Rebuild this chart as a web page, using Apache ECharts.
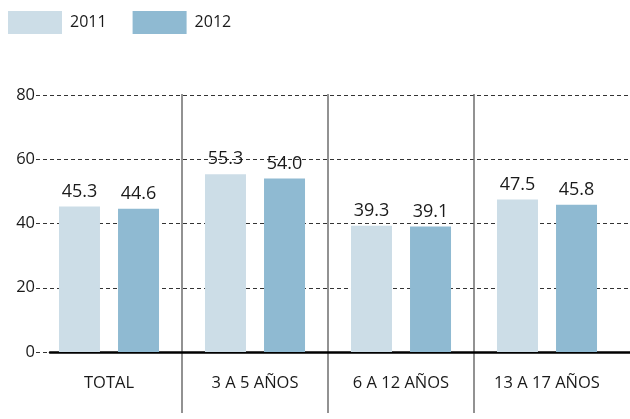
<!DOCTYPE html>
<html><head><meta charset="utf-8">
<script src="https://cdn.jsdelivr.net/npm/echarts@6/dist/echarts.min.js"></script>
<style>html,body{margin:0;padding:0;background:#fff}#c{width:630px;height:419px}</style>
</head><body><div id="c"></div>
<script>
const categories = ['TOTAL', '3 A 5 AÑOS', '6 A 12 AÑOS', '13 A 17 AÑOS'];
const seriesNames = ['2011', '2012'];
const values2011 = [45.3, 55.3, 39.3, 47.5];
const values2012 = [44.6, 54.0, 39.1, 45.8];
const yTicks = [0, 20, 40, 60, 80];

const FONT = '"Open Sans", sans-serif';
const yMin = yTicks[0], yMax = yTicks[yTicks.length - 1], yStep = yTicks[1] - yTicks[0];
const TOP = 95, BOTTOM = 67;

const chart = echarts.init(document.getElementById('c'));
const lbl = {show: true, position: 'top', distance: 6, color: '#1a1a1a', fontSize: 18, fontFamily: FONT,
  formatter: p => p.value.toFixed(1)};
chart.setOption({
  animation: false,
  legend: {
    left: 3, top: 6, itemWidth: 54, itemHeight: 23, itemGap: 26,
    icon: 'rect', data: seriesNames,
    textStyle: {fontSize: 16, fontFamily: FONT, color: '#1a1a1a', padding: [0, 0, 0, 3]}
  },
  grid: [
    {left: 36, right: 0, top: TOP, bottom: BOTTOM},   // gridlines + y labels
    {left: 36, right: 10, top: TOP, bottom: BOTTOM},  // bars
    {left: 36, right: 10, top: 94, bottom: 6},        // separators
    {left: 50, right: 0, top: TOP, bottom: BOTTOM}    // zero axis line
  ],
  xAxis: [
    {gridIndex: 0, type: 'value', show: false},
    {gridIndex: 1, type: 'category', data: categories,
      axisLine: {show: false}, axisTick: {show: false},
      axisLabel: {color: '#1a1a1a', fontSize: 16.5, fontFamily: FONT, margin: 23}},
    {gridIndex: 2, type: 'value', min: 0, max: categories.length, interval: 1,
      axisLine: {show: false}, axisTick: {show: false}, axisLabel: {show: false},
      splitLine: {show: true, showMinLine: false, showMaxLine: false, lineStyle: {color: '#6e6e6e', width: 1.5}}},
    {gridIndex: 3, type: 'value', min: 0, max: 1,
      axisLine: {show: true, lineStyle: {color: '#000', width: 2.5}},
      axisTick: {show: false}, axisLabel: {show: false}, splitLine: {show: false}}
  ],
  yAxis: [
    {gridIndex: 0, type: 'value', min: yMin, max: yMax, interval: yStep,
      axisLine: {show: false}, axisTick: {show: false},
      axisLabel: {color: '#1a1a1a', fontSize: 16.5, fontFamily: FONT, margin: 1},
      splitLine: {show: true, lineStyle: {color: '#333', type: [4, 3], width: 1}}},
    {gridIndex: 1, type: 'value', min: yMin, max: yMax, interval: yStep, show: false, splitLine: {show: false}},
    {gridIndex: 2, type: 'value', show: false, splitLine: {show: false}},
    {gridIndex: 3, type: 'value', min: yMin, max: yMax, show: false, splitLine: {show: false}}
  ],
  series: [
    {name: seriesNames[0], type: 'bar', xAxisIndex: 1, yAxisIndex: 1, data: values2011,
      barWidth: 41, barGap: '44%', itemStyle: {color: '#ccdde7'}, label: lbl},
    {name: seriesNames[1], type: 'bar', xAxisIndex: 1, yAxisIndex: 1, data: values2012,
      barWidth: 41, barGap: '44%', itemStyle: {color: '#8fbad2'}, label: lbl}
  ]
});
</script></body></html>
